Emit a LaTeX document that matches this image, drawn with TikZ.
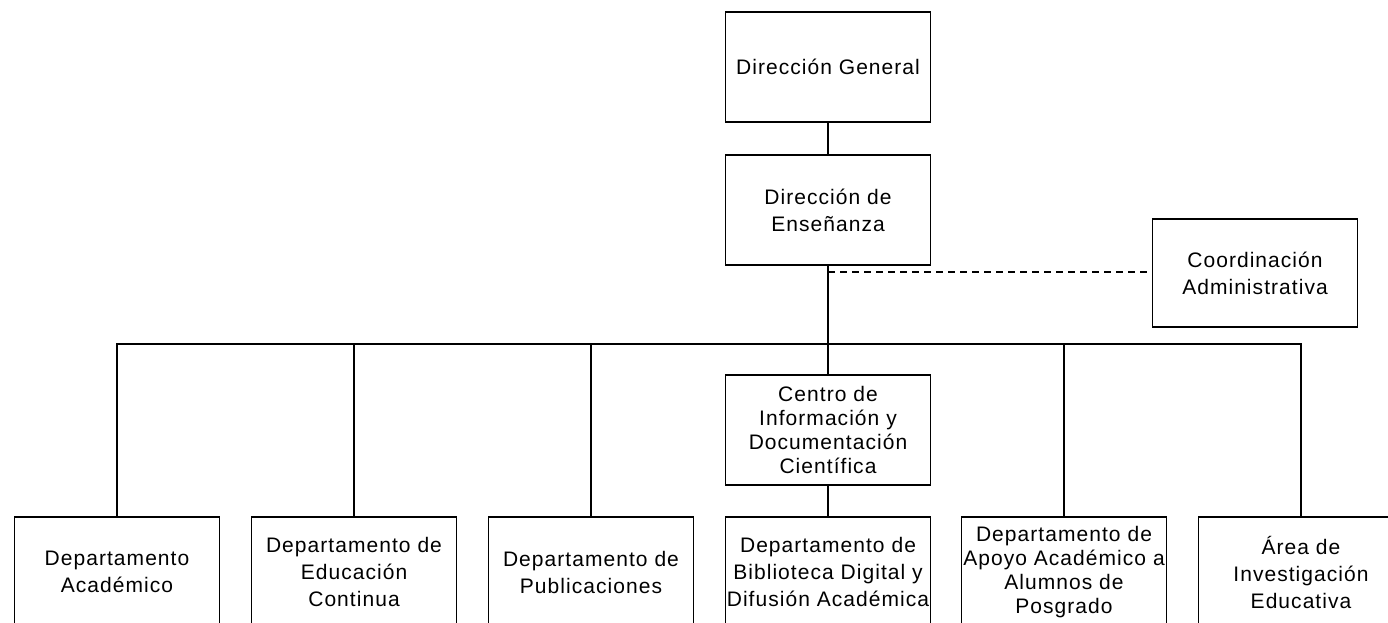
\documentclass[tikz,border=0pt]{standalone}
\usepackage{fontspec}
\setmainfont[LetterSpace=5]{Liberation Sans}

\begin{document}
\begin{tikzpicture}[
        x=1pt, y=-1pt,
        line width=1.4pt,
        caja/.style={draw, rectangle, line width=1.4pt, minimum width=205pt,
          minimum height=110pt, inner sep=1pt, align=center,
          font=\fontsize{21}{27}\selectfont},
        apretada/.style={font=\fontsize{21}{24}\selectfont}
      ]
        % marco
        \useasboundingbox (0,0) rectangle (1388,622);
        % direcciones
        \node[caja] (dg) at (828,67) {Dirección General};
        \node[caja] (de) at (828,210) {Dirección de\\Enseñanza};
        % coordinación (staff)
        \node[caja, minimum height=108pt] (ca) at (1255,273) {Coordinación\\Administrativa};
        % centro
        \node[caja, apretada] (ce) at (828,430) {Centro de\\Información y\\Documentación\\Científica};
        % departamentos
        \node[caja] (d1) at (117,572) {Departamento\\Académico};
        \node[caja] (d2) at (354,572) {Departamento de\\Educación\\Continua};
        \node[caja] (d3) at (591,572) {Departamento de\\Publicaciones};
        \node[caja] (d4) at (828,572) {Departamento de\\Biblioteca Digital y\\Difusión Académica};
        \node[caja, apretada] (d5) at (1064,572) {Departamento de\\Apoyo Académico a\\Alumnos de\\Posgrado};
        \node[caja] (d6) at (1301,572) {Área de\\Investigación\\Educativa};
        % punto del bus
        \coordinate (bus) at (828,344);
        \coordinate (staff) at (828,272);
        % líneas
        \draw (dg) -- (de);
        \draw (de) -- (ce);
        \draw (ce) -- (d4);
        \draw[dashed, dash pattern=on 7pt off 5pt] (staff) -- (staff -| ca.west);
        \draw (d1.north) |- (bus) -| (d6.north);
        \foreach \n in {d2,d3,d5}
          \draw (\n.north) -- (\n.north |- bus);
      \end{tikzpicture}
\end{document}
